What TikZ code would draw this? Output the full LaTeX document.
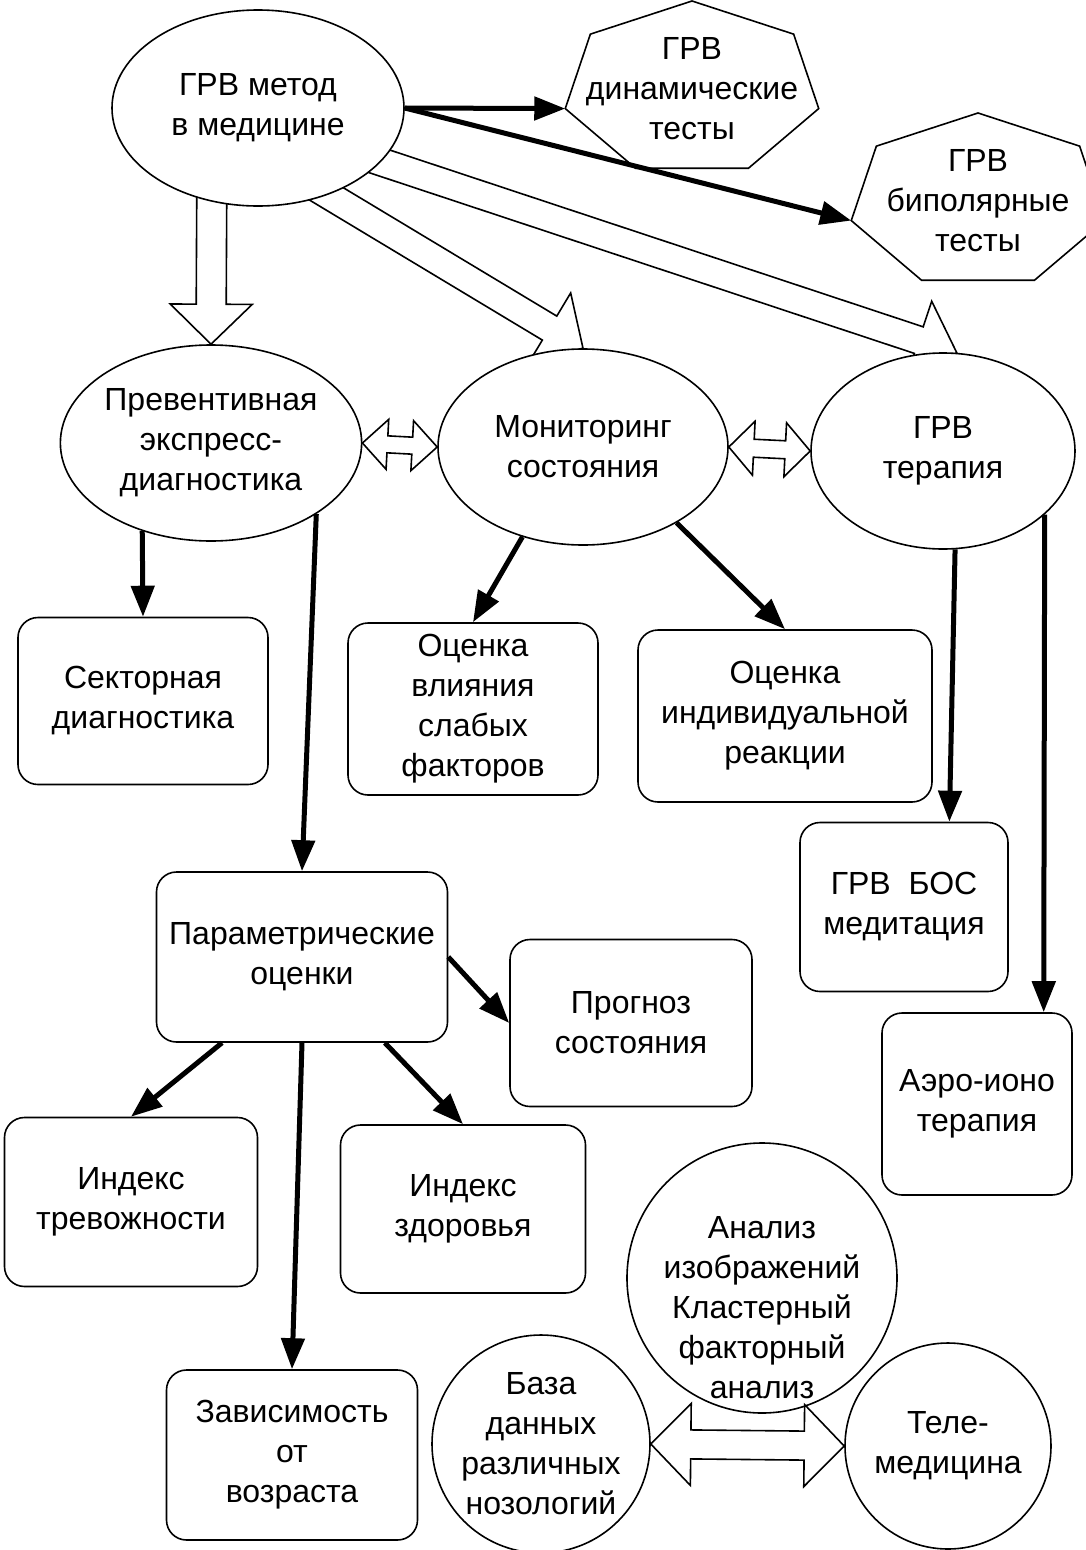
\documentclass[tikz,border=0pt]{standalone}
\usepackage{fontspec}
\setmainfont{Liberation Sans}
\usetikzlibrary{arrows.meta,shapes.geometric,calc}
\pgfdeclarelayer{background}
\pgfsetlayers{background,main}
\tikzstyle{oval}=[ellipse,draw,fill=white,line width=1.6pt,inner sep=0pt,align=center]
\tikzstyle{box}=[rectangle,rounded corners=20pt,draw,fill=white,line width=1.6pt,inner sep=0pt,align=center]
\tikzstyle{ring}=[circle,draw,fill=white,line width=1.6pt,inner sep=0pt,align=center]
\tikzstyle{plain}=[align=center,inner sep=0pt]
\tikzstyle{link}=[draw,line width=5pt,-{Triangle[length=31pt,width=23pt]}]
\tikzstyle{hollow}=[draw,line width=1.6pt,line join=miter]

% wide open arrow: {from}{to}{shaft half}{head half}{head length}
\newcommand{\blockarrow}[5]{%
  \path let \p1=($(#2)-(#1)$) in \pgfextra{%
    \pgfmathsetmacro\arang{atan2(\y1,\x1)}\pgfmathsetmacro\arlen{veclen(\x1,\y1)}%
    \xdef\arang{\arang}\xdef\arlen{\arlen}};
  \draw[hollow,shift={(#1)},rotate=\arang]
    (0,#3) -- ({\arlen-#5},#3) -- ({\arlen-#5},#4) -- (\arlen,0)
    -- ({\arlen-#5},-#4) -- ({\arlen-#5},-#3) -- (0,-#3) -- cycle;}
\newcommand{\blockdarrow}[5]{%
  \path let \p1=($(#2)-(#1)$) in \pgfextra{%
    \pgfmathsetmacro\arang{atan2(\y1,\x1)}\pgfmathsetmacro\arlen{veclen(\x1,\y1)}%
    \xdef\arang{\arang}\xdef\arlen{\arlen}};
  \draw[hollow,shift={(#1)},rotate=\arang]
    (0,0) -- (#5,#4) -- (#5,#3) -- ({\arlen-#5},#3) -- ({\arlen-#5},#4) -- (\arlen,0)
    -- ({\arlen-#5},-#4) -- ({\arlen-#5},-#3) -- (#5,-#3) -- (#5,-#4) -- cycle;}
% seven corners round a text node
\newcommand{\heptagon}[1]{%
  \draw[hollow] ($(#1)+(90:130 and 88)$)
    \foreach \k [evaluate=\k as \ang using 90+\k*360/7] in {1,...,6} { -- ($(#1)+(\ang:130 and 88)$) } -- cycle;}

\begin{document}
\begin{tikzpicture}[x=1pt,y=1pt,every node/.style={font=\fontsize{32}{40}\selectfont}]
    \useasboundingbox (0,0) rectangle (1085,-1550);

    % the method and the tests
    \node[oval,minimum width=292pt,minimum height=196pt] (method) at (258,-108) {ГРВ метод\\в медицине};
    \node[plain] (dyn) at (692,-89) {ГРВ\\динамические\\тесты};
    \node[plain] (bip) at (978,-201) {ГРВ\\биполярные\\тесты};
    \heptagon{dyn}
    \heptagon{bip}
    \coordinate (dynL) at ($(dyn)+(192.857:130 and 88)$);
    \coordinate (bipL) at ($(bip)+(192.857:130 and 88)$);

    % second row
    \node[oval,minimum width=294pt,minimum height=196pt] (prev) at (211,-443) {Превентивная\\экспресс-\\диагностика};
    \node[oval,minimum width=290pt,minimum height=196pt] (mon) at (583,-447) {Мониторинг\\состояния};
    \node[oval,minimum width=264pt,minimum height=196pt] (ther) at (943,-451) {ГРВ\\терапия};

    % boxes
    \node[box,minimum width=250pt,minimum height=167pt] (sect) at (143,-701) {Секторная\\диагностика};
    \node[box,minimum width=250pt,minimum height=172pt] (infl) at (473,-709) {Оценка\\влияния\\слабых\\факторов};
    \node[box,minimum width=294pt,minimum height=172pt] (indiv) at (785,-716) {Оценка\\индивидуальной\\реакции};
    \node[box,minimum width=208pt,minimum height=169pt] (bos) at (904,-907) {ГРВ\ \ БОС\\медитация};
    \node[box,minimum width=291pt,minimum height=170pt] (param) at (302,-957) {Параметрические\\оценки};
    \node[box,minimum width=242pt,minimum height=167pt] (prog) at (631,-1023) {Прогноз\\состояния};
    \node[box,minimum width=190pt,minimum height=182pt] (aero) at (977,-1104) {Аэро-ионо\\терапия};
    \node[box,minimum width=253pt,minimum height=169pt] (anx) at (131,-1202) {Индекс\\тревожности};
    \node[box,minimum width=245pt,minimum height=168pt] (health) at (463,-1209) {Индекс\\здоровья};
    \node[box,minimum width=251pt,minimum height=170pt] (age) at (292,-1455) {Зависимость\\от\\возраста};

    % circles at the bottom
    \node[ring,minimum size=218pt] (db) at (541,-1444) {База\\данных\\различных\\нозологий};
    \node[ring,minimum size=270pt] (img) at (762,-1278) {};
    \node[plain] (imgtext) at ($(img)+(0,-30)$) {Анализ\\изображений\\Кластерный\\факторный\\анализ};
    \node[ring,minimum size=206pt] (tele) at (948,-1446) {Теле-\\медицина};

    % thick arrows
    \path[link] (method.east) -- (dynL);
    \path[link] (method.east) -- (bipL);
    \path[link] (prev.-128) -- (sect.north);
    \path[link] (prev.-34) -- (param.north);
    \path[link] (mon.-124) -- (infl.north);
    \path[link] (mon.-39) -- (indiv.north);
    \path[link] (ther.-83.5) -- (bos.62.5);
    \path[link] (ther.-32.7) -- (aero.54.5);
    \path[link] (param.east) -- (prog.west);
    \path[link] (param.-133) -- (anx.north);
    \path[link] (param.south) -- (age.north);
    \path[link] (param.-46) -- (health.north);

    % open arrows go under the ovals
    \coordinate (prevtail) at (212,-150);
    \coordinate (montail) at (300,-178);
    \coordinate (thertail) at (300,-135);
    \begin{pgfonlayer}{background}
        \fill[white] (0,0) rectangle (1085,-1550);
        \blockarrow{prevtail}{prev.north}{15}{41}{40}
        \blockarrow{montail}{mon.north}{14}{41}{39}
        \blockarrow{thertail}{ther.82}{14}{41}{40}
        \blockdarrow{prev.east}{mon.west}{8.5}{25}{25}
        \blockdarrow{mon.east}{ther.west}{9}{27}{25}
    \end{pgfonlayer}
    \blockdarrow{db.east}{tele.west}{14.5}{41}{40}
\end{tikzpicture}
\end{document}
